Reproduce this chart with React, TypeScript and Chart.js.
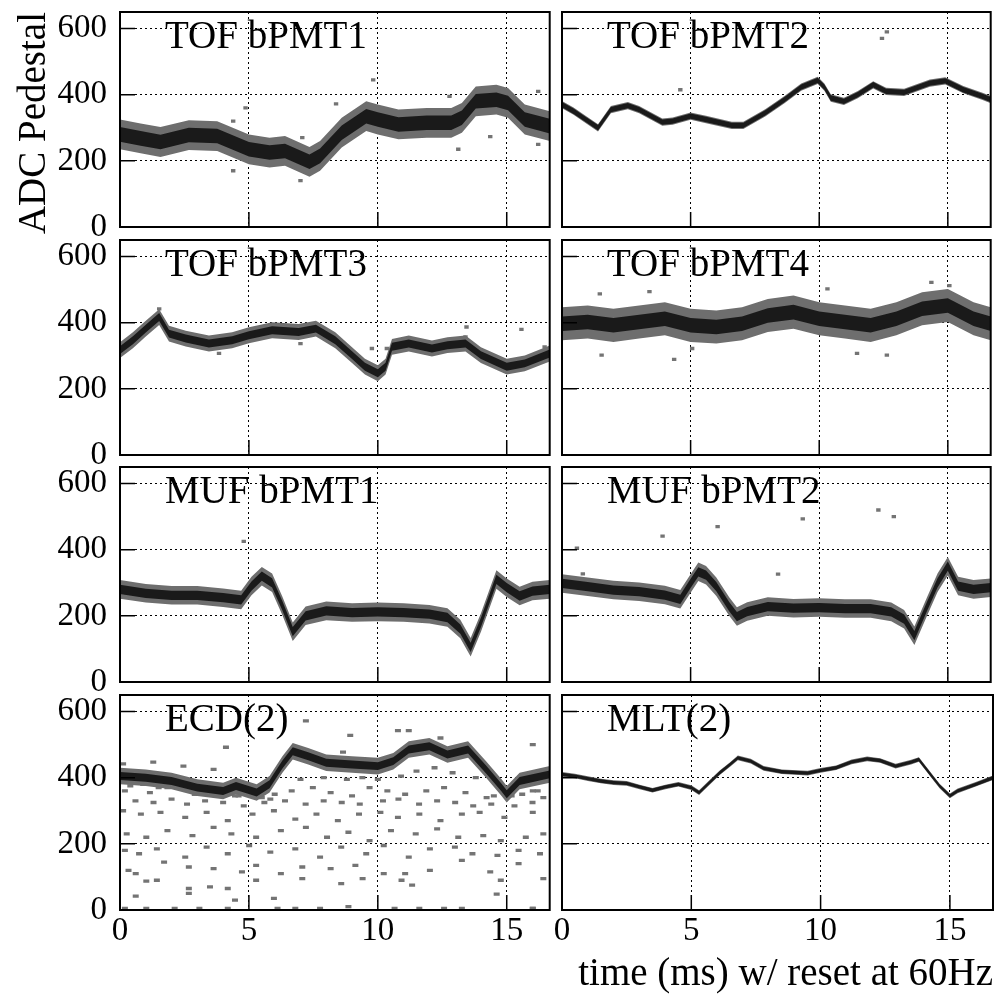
import React, { useEffect, useRef } from "react";
import { Chart, registerables } from "chart.js";
Chart.register(...registerables);

const SERIF = '"Liberation Serif", "Times New Roman", Times, serif';

// ---- axes ----
const T_MAX = 1000 / 60; // one 60 Hz period, ms
const V_MAX = 650;
const X_STEP = 5;
const Y_STEP = 200;
const X_TITLE = "time (ms) w/ reset at 60Hz";
const Y_TITLE = "ADC Pedestal";

const panelLabels = ["TOF bPMT1", "TOF bPMT2", "TOF bPMT3", "TOF bPMT4", "MUF bPMT1", "MUF bPMT2", "ECD(2)", "MLT(2)"];

// ---- band centre lines (time ms, ADC) ----
const tof1T = [0, 0.8, 1.57, 2.67, 3.77, 5.0, 5.8, 6.4, 7.35, 7.76, 8.6, 9.55, 10.0, 10.8, 11.9, 12.85, 13.26, 13.8, 14.6, 15.05, 15.7, 16.67];
const tof1V = [280, 268, 257, 278, 275, 235, 225, 230, 197, 215, 285, 335, 325, 310, 315, 315, 330, 380, 385, 375, 325, 305];

const tof2T = [0, 0.45, 0.83, 1.4, 1.9, 2.56, 3.0, 3.9, 4.3, 5.0, 5.6, 6.6, 7.05, 7.9, 8.65, 9.3, 9.94, 10.2, 10.45, 10.96, 11.5, 12.1, 12.6, 13.3, 14.3, 14.9, 15.6, 16.35, 16.67];
const tof2V = [370, 350, 330, 300, 355, 367, 355, 317, 320, 335, 325, 307, 307, 345, 385, 423, 443, 423, 390, 380, 400, 430, 410, 407, 435, 442, 415, 395, 385];

const tof3T = [0, 0.5, 1.0, 1.52, 1.9, 2.55, 3.45, 4.35, 5.0, 5.9, 6.93, 7.6, 8.35, 9.0, 9.5, 10.0, 10.3, 10.55, 11.2, 12.1, 12.7, 13.4, 14.0, 15.0, 15.7, 16.67];
const tof3V = [317, 347, 382, 417, 367, 352, 337, 347, 362, 377, 372, 382, 347, 302, 267, 247, 267, 327, 337, 322, 332, 337, 302, 267, 277, 307];

const tof4T = [0, 1, 2, 3, 4, 5, 6, 7, 8, 9, 10, 11, 12, 13, 14, 15, 16, 16.67];
const tof4V = [397, 402, 392, 402, 412, 392, 387, 397, 422, 432, 412, 402, 392, 412, 442, 452, 412, 397];

const muf1T = [0, 1, 2, 3, 4, 4.7, 5.1, 5.5, 5.9, 6.3, 6.7, 7.2, 8, 9, 10, 11, 12, 12.7, 13.2, 13.6, 14.0, 14.6, 15.0, 15.5, 16.0, 16.67];
const muf1V = [280, 268, 262, 262, 255, 248, 290, 320, 300, 230, 152, 200, 215, 210, 212, 210, 205, 195, 160, 105, 180, 310, 285, 260, 275, 280];

const muf2T = [0, 1, 2, 3, 4, 4.6, 5.0, 5.3, 5.6, 6.0, 6.5, 6.8, 7.2, 8, 9, 10, 11, 12, 12.8, 13.3, 13.7, 14.2, 14.6, 15.0, 15.4, 16.0, 16.67];
const muf2V = [298, 288, 278, 273, 263, 250, 298, 333, 323, 288, 228, 198, 213, 228, 223, 225, 222, 222, 212, 190, 140, 230, 300, 350, 290, 280, 285];

const ecdT = [0, 1, 2, 3, 4, 4.5, 5.3, 5.8, 6.3, 6.7, 7.3, 8, 9, 10, 10.6, 11.2, 12, 12.7, 13.5, 14.2, 14.8, 15.0, 15.5, 16.67];
const ecdV = [405, 400, 390, 370, 360, 375, 355, 380, 440, 480, 465, 445, 440, 435, 450, 485, 495, 470, 485, 425, 370, 350, 390, 410];

const mltT = [0, 0.5, 1, 1.5, 2, 2.5, 3, 3.5, 4, 4.5, 5, 5.3, 5.7, 6.1, 6.5, 6.8, 7.3, 7.8, 8.5, 9.5, 10, 10.6, 11.2, 11.8, 12.3, 12.9, 13.5, 13.8, 14.2, 14.6, 15, 15.3, 16, 16.67];
const mltV = [410, 405, 397, 390, 385, 383, 372, 362, 372, 380, 370, 355, 385, 415, 440, 460, 450, 428, 418, 414, 422, 430, 448, 457, 452, 435, 447, 455, 415, 375, 345, 360, 380, 400];

// ---- isolated entries (time ms, ADC) ----
const tof1NoiseT = [9.82, 4.87, 8.38, 4.39, 4.39, 7.0, 14.36, 16.22, 16.22, 13.12, 12.78, 7.07];
const tof1NoiseV = [445, 360, 372, 320, 170, 140, 273, 250, 410, 235, 395, 270];
const tof2NoiseT = [12.63, 12.44, 4.6];
const tof2NoiseV = [590, 570, 415];
const tof3NoiseT = [1.52, 9.77, 13.44, 15.57, 13.4, 7.0, 3.84, 16.47, 10.35];
const tof3NoiseV = [442, 322, 387, 380, 357, 337, 307, 327, 322];
const tof4NoiseT = [14.36, 10.32, 3.4, 1.54, 4.36, 11.47, 12.63, 5.06, 1.47, 15.06];
const tof4NoiseV = [522, 502, 494, 302, 289, 307, 302, 322, 487, 512];
const muf1NoiseT = [4.8];
const muf1NoiseV = [425];
const muf2NoiseT = [0.58, 3.91, 6.05, 9.36, 8.4, 0.81, 12.3, 12.9];
const muf2NoiseV = [405, 441, 470, 493, 326, 327, 520, 500];
const ecdNoiseT = [
  7.21, 8.93, 10.78, 11.2, 12.43, 16.01, 4.11, 8.65,
  0.12, 1.29, 2.46, 3.63,
  0.4, 0.9, 1.5, 2.2, 2.9, 3.2, 3.9, 4.6, 5.5, 6.0, 7.0, 7.9, 8.8, 9.4, 10.0, 10.9, 11.5, 12.2, 12.9, 13.8, 14.5, 15.6, 16.2,
  0.19, 1.16, 1.84, 2.81, 3.63, 4.46, 5.01, 5.83, 6.66, 7.48, 8.17, 9.0, 9.68, 10.37, 11.06, 11.88, 12.57, 13.4, 14.22, 15.19, 16.01, 16.42,
  0.6, 1.3, 2.0, 2.6, 3.3, 4.0, 4.8, 5.6, 6.4, 7.2, 7.9, 8.6, 9.3, 10.2, 10.8, 11.6, 12.3, 13.0, 13.7, 14.4, 15.3, 16.0,
  0.12, 0.81, 1.57, 2.53, 3.36, 4.18, 5.14, 5.97, 6.8, 7.62, 8.45, 9.27, 10.1, 10.78, 11.61, 12.43, 13.26, 13.95, 14.91, 16.01,
  0.26, 1.02, 1.84, 2.81, 3.63, 4.32, 5.28, 6.24, 7.21, 8.03, 8.86, 9.68, 10.51, 11.47, 12.3, 13.12, 14.09, 14.77, 15.74, 16.42,
  0.19, 0.74, 1.43, 2.53, 3.36, 4.18, 5.01, 5.83, 6.8, 7.76, 8.58, 9.55, 10.23, 11.2, 12.02, 12.99, 13.67, 14.64, 15.46, 16.29,
  0.33, 0.61, 1.71, 2.67, 3.63, 4.73, 5.28, 6.24, 7.07, 8.17, 9.13, 10.23, 11.06, 12.02, 13.26, 14.36, 15.46, 16.42,
  1.02, 1.43, 2.67, 3.49, 4.18, 5.28, 7.07, 8.58, 9.41, 10.92, 11.33, 14.77,
  0.61, 2.67, 4.46, 5.97, 8.86, 14.61, 16.01,
  0.19, 1.02, 2.12, 3.08, 4.18, 6.11, 6.8, 7.76, 10.65, 11.61, 12.57, 13.26, 16.01,
];
const ecdNoiseV = [
  572, 528, 542, 542, 520, 500, 492, 477,
  442, 447, 435, 425,
  375, 380, 370, 375, 350, 355, 345, 345, 340, 350, 395, 400, 395, 400, 395, 405, 420, 430, 415, 400, 345, 350, 360,
  360, 355, 370, 360, 370, 345, 360, 335, 360, 370, 355, 345, 370, 360, 350, 360, 370, 355, 340, 345, 360, 340,
  330, 325, 335, 320, 330, 325, 315, 325, 330, 320, 330, 325, 320, 330, 335, 320, 330, 325, 315, 320, 315, 325,
  300, 290, 295, 280, 295, 270, 290, 300, 275, 290, 270, 290, 295, 280, 290, 270, 290, 295, 280, 295,
  230, 220, 240, 225, 250, 230, 220, 240, 250, 220, 235, 210, 240, 230, 245, 220, 225, 210, 220, 230,
  180, 170, 185, 160, 190, 170, 195, 175, 185, 160, 190, 170, 195, 160, 185, 190, 170, 165, 180, 170,
  120, 110, 145, 130, 125, 115, 135, 110, 130, 125, 135, 110, 110, 120, 150, 115, 140, 95,
  87, 90, 65, 70, 65, 90, 95, 80, 95, 90, 75, 90,
  42, 50, 30, 35, 10, 48, 5,
  5, 5, 5, 5, 5, 5, 5, 5, 5, 5, 5, 5, 5,
];
const mltNoiseT: number[] = [];
const mltNoiseV: number[] = [];

// band half widths (ADC) : outer grey, inner dark
const haloHalf = [45, 11, 24, 50, 28, 28, 25, 7];
const coreHalf = [22, 8, 12, 22, 14, 14, 12, 5];

const series = [
  [tof1T, tof1V, tof1NoiseT, tof1NoiseV],
  [tof2T, tof2V, tof2NoiseT, tof2NoiseV],
  [tof3T, tof3V, tof3NoiseT, tof3NoiseV],
  [tof4T, tof4V, tof4NoiseT, tof4NoiseV],
  [muf1T, muf1V, muf1NoiseT, muf1NoiseV],
  [muf2T, muf2V, muf2NoiseT, muf2NoiseV],
  [ecdT, ecdV, ecdNoiseT, ecdNoiseV],
  [mltT, mltV, mltNoiseT, mltNoiseV],
];

// ---- layout (page px) ----
const COLS = [[120, 552], [562, 993]];
const ROWS = [[12, 227], [240, 455], [467, 682], [695, 910]];
const PAGE_H = 996;
const TICK_LEN = 15;

function pts(t: number[], v: number[], off: number) {
  return t.map((tt, i) => ({ x: tt, y: v[i] + off }));
}

function zeroPad(s: any) {
  s.paddingTop = 0;
  s.paddingBottom = 0;
  s.paddingLeft = 0;
  s.paddingRight = 0;
}

function Panel({ idx }: { idx: number }) {
  const ref = useRef<HTMLCanvasElement>(null);
  const col = idx % 2;
  const row = Math.floor(idx / 2);
  const [fl, fr] = COLS[col];
  const [ft, fb] = ROWS[row];
  const yAxisW = col === 0 ? 120 : 20;
  const padTop = 20;
  const padRight = 5;
  const xAxisH = row === 3 ? PAGE_H - fb : 20;
  const cw = yAxisW + (fr - fl) + padRight;
  const ch = padTop + (fb - ft) + xAxisH;

  useEffect(() => {
    const [t, v, nt, nv] = series[idx];
    const label = panelLabels[idx];
    const clear = "rgba(0,0,0,0)";
    const bandLine = { borderColor: clear, borderWidth: 0, pointRadius: 0, tension: 0 };
    const framePlugin = {
      id: "frame" + idx,
      afterDatasetsDraw(chart: any) {
        const { ctx, chartArea, scales } = chart;
        const { left, top, right, bottom } = chartArea;
        ctx.save();
        ctx.strokeStyle = "#000";
        ctx.lineWidth = 1.5;
        ctx.beginPath();
        for (const tk of scales.x.ticks) {
          const px = scales.x.getPixelForValue(tk.value);
          ctx.moveTo(px, bottom);
          ctx.lineTo(px, bottom - TICK_LEN);
        }
        for (const tk of scales.y.ticks) {
          const py = scales.y.getPixelForValue(tk.value);
          ctx.moveTo(left, py);
          ctx.lineTo(left + TICK_LEN, py);
        }
        ctx.stroke();
        ctx.lineWidth = 2;
        ctx.strokeRect(left, top, right - left, bottom - top);
        ctx.fillStyle = "#000";
        ctx.font = "39px " + SERIF;
        ctx.textAlign = "left";
        ctx.textBaseline = "alphabetic";
        ctx.fillText(label, left + 45, top + 36);
        ctx.restore();
      },
    };
    const chart = new Chart(ref.current as HTMLCanvasElement, {
      type: "line",
      data: {
        datasets: [
          { ...bandLine, data: pts(t, v, coreHalf[idx]), fill: false },
          { ...bandLine, data: pts(t, v, -coreHalf[idx]), fill: "-1", backgroundColor: "#1a1a1a" },
          { ...bandLine, data: pts(t, v, haloHalf[idx]), fill: false },
          { ...bandLine, data: pts(t, v, -haloHalf[idx]), fill: "-1", backgroundColor: "#6e6e6e" },
          {
            data: pts(nt, nv, 0),
            showLine: false,
            pointStyle: "line",
            pointRadius: idx === 6 ? 3 : 2.2,
            pointBorderWidth: 3.3,
            pointBorderColor: "#747474",
            pointBackgroundColor: "#747474",
          },
        ] as any,
      },
      options: {
        responsive: false,
        animation: false,
        events: [],
        layout: { padding: { left: 0, top: padTop, right: padRight, bottom: 0 } },
        plugins: { legend: { display: false }, tooltip: { enabled: false } },
        scales: {
          x: {
            type: "linear",
            position: "bottom",
            min: 0,
            max: T_MAX,
            afterFit: (s: any) => {
              s.height = xAxisH;
              zeroPad(s);
            },
            ticks: {
              display: row === 3,
              stepSize: X_STEP,
              includeBounds: false,
              padding: 2,
              color: "#000",
              font: { family: SERIF, size: 33 },
              maxRotation: 0,
              autoSkip: false,
              callback: (val: any) => String(val),
            },
            grid: { color: "#000", lineWidth: 1, drawTicks: false },
            border: { display: false, dash: [2, 3] },
            title:
              row === 3 && col === 1
                ? { display: true, text: X_TITLE, align: "end", color: "#000", font: { family: SERIF, size: 39, lineHeight: 1.1 }, padding: 0 }
                : { display: false },
          },
          y: {
            type: "linear",
            position: "left",
            min: 0,
            max: V_MAX,
            afterFit: (s: any) => {
              s.width = yAxisW;
              zeroPad(s);
            },
            ticks: {
              display: col === 0,
              stepSize: Y_STEP,
              includeBounds: false,
              padding: 13,
              color: "#000",
              font: { family: SERIF, size: 33 },
              callback: (val: any) => String(val),
            },
            grid: { color: "#000", lineWidth: 1, drawTicks: false },
            border: { display: false, dash: [2, 3] },
            title:
              idx === 0
                ? { display: true, text: Y_TITLE, align: "end", color: "#000", font: { family: SERIF, size: 39, lineHeight: 1.2 }, padding: { top: 11, bottom: 0 } }
                : { display: false },
          },
        },
      } as any,
      plugins: [framePlugin],
    });
    return () => chart.destroy();
  }, []);

  return (
    <canvas
      ref={ref}
      width={cw}
      height={ch}
      style={{ position: "absolute", left: fl - yAxisW, top: ft - padTop, width: cw, height: ch }}
    />
  );
}

export default function App() {
  return (
    <div style={{ position: "absolute", left: 0, top: 0, width: 998, height: 996, background: "#fff", overflow: "hidden" }}>
      {panelLabels.map((_, i) => (
        <Panel key={i} idx={i} />
      ))}
    </div>
  );
}
